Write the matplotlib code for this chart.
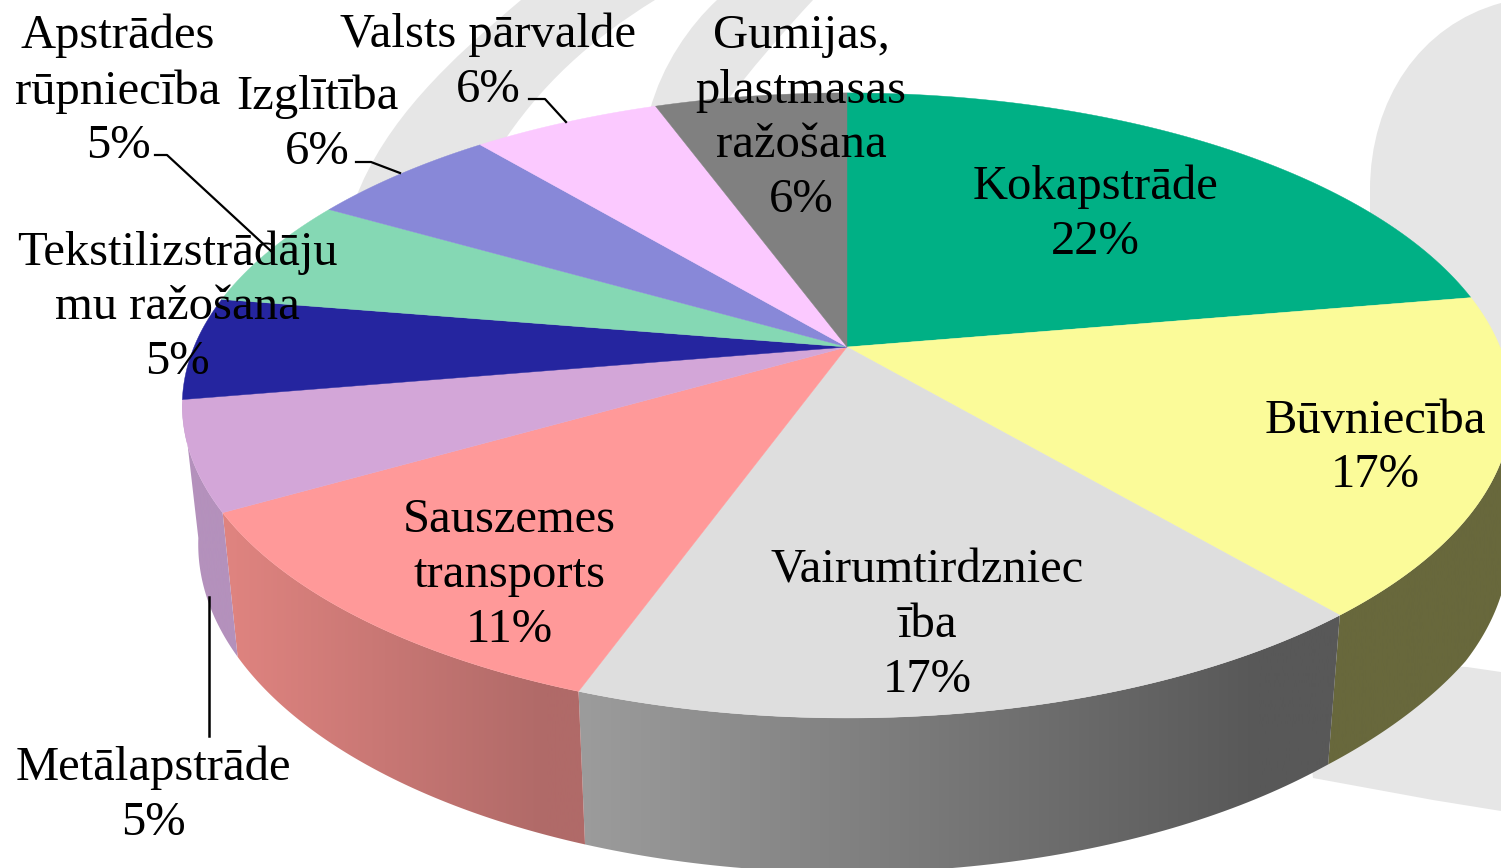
import numpy as np
import matplotlib
matplotlib.use("Agg")
import matplotlib.pyplot as plt
from matplotlib.colors import to_rgb
from matplotlib.patches import PathPatch, Polygon
from matplotlib.path import Path

# Slice sizes, printed percentages kept apart
names = ["Kokapstrāde", "Būvniecība", "Vairumtirdzniec\nība", "Sauszemes\ntransports",
         "Metālapstrāde", "Tekstilizstrādāju\nmu ražošana", "Apstrādes\nrūpniecība",
         "Izglītība", "Valsts pārvalde", "Gumijas,\nplastmasas\nražošana"]
shares = [22.3, 16.5, 16.7, 11.2, 5.6, 5.3, 5.7, 5.6, 5.5, 5.6]
percents = [22, 17, 17, 11, 5, 5, 5, 6, 6, 6]
colors = ["#00B085", "#FBFB99", "#DEDEDE", "#FF9999", "#D3A6D8",
          "#25259F", "#85D8B4", "#8888D8", "#FBC9FF", "#808080"]
label_x = [1095, 1375, 927, 509, 153, 177, 118, 317, 488, 801]
label_y = [214, 448, 625, 575, 795, 307, 91, 124, 62, 118]

# Perspective of the pie disc in pixels
CX, CY = 847, 347
B, A, P = 653, 301.6, -0.187


def disc(pct):
    t = np.radians(np.asarray(pct) * 3.6)
    u, v = np.sin(t), -np.cos(t)
    w = 1 + P * v
    return CX + B * u / w, CY + A * v / w


def lower(x, y):
    # bottom edge of the rim, a bit wider on the right than the plain scale gives
    k = 0.976 + 0.02 * np.clip((617 - y) / 100, 0, 1) * (x > CX)
    return CX + k * (x - CX), 1.05 * y + 118.5


def rim_gradient(ax, x0, x1, c0, c1, poly):
    ramp = np.clip(np.linspace(0, 1.12, 256), 0, 1)[None, :, None]
    c0, c1 = np.array(to_rgb(c0)), np.array(to_rgb(c1))
    im = ax.imshow(c0 + (c1 - c0) * ramp, extent=(x0, x1, 868, 0), aspect="auto", zorder=3)
    im.set_clip_path(poly)


fig = plt.figure(figsize=(15.01, 8.68), dpi=100, facecolor="white")
ax = fig.add_axes([0, 0, 1, 1])
ax.set_axis_off()

# Background watermark swooshes
wm = "#E6E6E6"
ax.add_patch(PathPatch(Path(
    [(355, 200), (385, 120), (450, 60), (521, 0), (655, 0), (590, 40), (540, 85), (498, 150), (355, 200)],
    [1, 4, 4, 4, 2, 4, 4, 4, 2]), fc=wm, ec="none", zorder=1))
ax.add_patch(PathPatch(Path(
    [(650, 110), (662, 65), (690, 25), (717, 0), (813, 0), (785, 30), (750, 70), (720, 110), (650, 110)],
    [1, 4, 4, 4, 2, 4, 4, 4, 2]), fc=wm, ec="none", zorder=1))
ax.add_patch(PathPatch(Path(
    [(1501, 3), (1420, 25), (1370, 100), (1370, 190), (1370, 300), (1501, 420), (1501, 3)],
    [1, 4, 4, 4, 2, 2, 2]), fc=wm, ec="none", zorder=1))
ax.add_patch(Polygon([(1300, 660), (1467, 667), (1501, 672), (1501, 811), (1433, 800), (1313, 778)],
                     fc=wm, ec="none", zorder=1))

edges = np.concatenate([[0], np.cumsum(shares)])
edges = edges / edges[-1] * 100

# Rim: only the part of the disc facing the viewer
rim_styles = {1: ("#68683C", "#68683C", 26.5), 2: ("#9C9C9C", "#585858", None),
              3: ("#E08480", "#B06A68", None), 4: ("#B491BC", "#B491BC", None)}
for i, (c_left, c_right, start) in rim_styles.items():
    pct = np.linspace(edges[i] if start is None else start, edges[i + 1], 80)
    xt, yt = disc(pct)
    xb, yb = lower(xt, yt)
    pts = np.r_[np.c_[xt, yt], np.c_[xb, yb][::-1]]
    poly = Polygon(pts, fc="none", ec="none")
    ax.add_patch(poly)
    x0, x1 = pts[:, 0].min(), pts[:, 0].max()
    rim_gradient(ax, x0, x1, c_left, c_right, poly)

# Top of the pie
for i, c in enumerate(colors):
    xt, yt = disc(np.linspace(edges[i], edges[i + 1], 80))
    ax.add_patch(Polygon(np.r_[[(CX, CY)], np.c_[xt, yt]], fc=c, ec=c, lw=0.3, zorder=4))

# Leader lines
ax.plot([155, 167, 272], [155, 155, 252], color="black", lw=1.6, zorder=5)
ax.plot([356, 371, 400], [162, 162, 173], color="black", lw=1.6, zorder=5)
ax.plot([529, 545, 566], [99, 99, 122], color="black", lw=1.6, zorder=5)
ax.plot([209, 209], [597, 736], color="black", lw=1.8, zorder=5)

for name, pc, x, y in zip(names, percents, label_x, label_y):
    ax.text(x, y, f"{name}\n{pc}%", ha="center", va="center", fontsize=35,
            family="Liberation Serif", linespacing=1.31, color="black", zorder=6)

ax.set_xlim(0, 1501)
ax.set_ylim(868, 0)
fig.savefig("out.png", dpi=100)
plt.close(fig)
